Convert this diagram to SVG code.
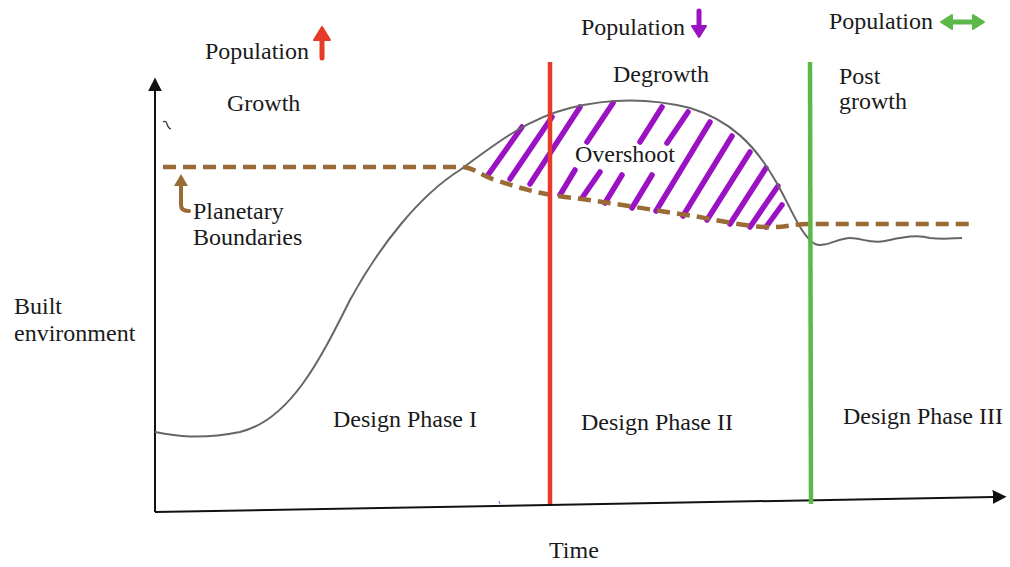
<svg xmlns="http://www.w3.org/2000/svg" width="1010" height="567" viewBox="0 0 1010 567">
  <style>
    .lbl { font-family: "Liberation Serif", "Times New Roman", serif; font-size: 24px; fill: #1a1a1a; }
    .axis { stroke: #111; stroke-width: 2; fill: none; }
    .hatch { stroke: #9a12c4; stroke-width: 5.5; stroke-linecap: round; fill: none; }
    .bound { stroke: #9a6b35; stroke-width: 4.5; stroke-dasharray: 13 7; fill: none; }
    .curve { stroke: #666; stroke-width: 2; fill: none; }
  </style>
  <defs>
    <marker id="axhead" viewBox="0 0 10 10" refX="1" refY="5" markerWidth="7" markerHeight="7" orient="auto" markerUnits="strokeWidth">
      <path d="M0,0 L10,5 L0,10 Z" fill="#111"/>
    </marker>
  </defs>

  <rect width="1010" height="567" fill="#fff"/>

  <!-- axes -->
  <g id="axes">
    <path class="axis" d="M155,512 L155,90" marker-end="url(#axhead)"/>
    <path class="axis" d="M155,512 L994,497" marker-end="url(#axhead)"/>
    <path d="M163,122 q3,-2 4,2 q1,4 4,5" stroke="#333" stroke-width="1.2" fill="none"/>
    <path d="M499,501 l1,3" stroke="#4a6fd0" stroke-width="1"/>
  </g>

  <!-- overshoot hatching -->
  <g id="overshoot-hatch">
    <line class="hatch" x1="488" y1="175" x2="522" y2="127"/>
    <line class="hatch" x1="510" y1="179" x2="552" y2="117"/>
    <line class="hatch" x1="530" y1="184" x2="580" y2="107"/>
    <line class="hatch" x1="560" y1="195" x2="575" y2="170"/>
    <line class="hatch" x1="587" y1="142" x2="613" y2="103"/>
    <line class="hatch" x1="582" y1="198" x2="600" y2="172"/>
    <line class="hatch" x1="605" y1="203" x2="622" y2="175"/>
    <line class="hatch" x1="640" y1="142" x2="662" y2="107"/>
    <line class="hatch" x1="632" y1="208" x2="652" y2="175"/>
    <line class="hatch" x1="667" y1="143" x2="688" y2="112"/>
    <line class="hatch" x1="656" y1="211" x2="710" y2="122"/>
    <line class="hatch" x1="683" y1="216" x2="732" y2="136"/>
    <line class="hatch" x1="707" y1="220" x2="750" y2="152"/>
    <line class="hatch" x1="730" y1="224" x2="766" y2="168"/>
    <line class="hatch" x1="750" y1="227" x2="778" y2="186"/>
    <line class="hatch" x1="766" y1="227" x2="782" y2="205"/>
  </g>

  <!-- built environment curve -->
  <g id="built-environment-curve">
    <path class="curve" d="M155,432 C175,436 200,440 240,432 C290,420 320,360 350,300 C380,245 420,195 460,170 C500,140 530,118 570,108 C610,98 650,98 690,108 C730,120 755,145 775,180 C790,205 800,235 815,244 C825,248 838,238 850,238 C862,238 870,244 885,241 C900,238 915,234 930,238 C945,240 955,238 962,238"/>
  </g>

  <!-- planetary boundary -->
  <g id="planetary-boundary">
    <path class="bound" d="M163,167 L462,167 C475,168 480,175 495,180 C520,188 540,194 565,197 C600,201 640,208 680,214 C710,218 740,226 765,227 C785,228 790,224 810,224 L972,224"/>
    <path d="M181,184 L181,205 Q181,211 189,211" stroke="#9a6b35" stroke-width="4" fill="none" stroke-linecap="round"/>
    <path d="M174,186 L181,174 L188,186 Z" fill="#9a6b35"/>
  </g>

  <!-- phase dividers -->
  <g id="divider-degrowth">
    <line x1="550" y1="62" x2="550" y2="504" stroke="#e63a2b" stroke-width="4.5"/>
  </g>
  <g id="divider-postgrowth">
    <line x1="810" y1="62" x2="811" y2="504" stroke="#5cb849" stroke-width="4.5"/>
  </g>

  <!-- population indicators -->
  <g id="pop-growth">
    <text class="lbl" x="205" y="59">Population</text>
    <line x1="322" y1="58" x2="322" y2="38" stroke="#e63a2b" stroke-width="5" stroke-linecap="round"/>
    <path d="M314,40 L322,27 L330,40 Z" fill="#e63a2b" stroke="#e63a2b" stroke-width="2" stroke-linejoin="round"/>
  </g>
  <g id="pop-degrowth">
    <text class="lbl" x="581" y="35">Population</text>
    <line x1="699" y1="11" x2="699" y2="27" stroke="#9a12c4" stroke-width="5" stroke-linecap="round"/>
    <path d="M692,26 L699,37 L706,26 Z" fill="#9a12c4" stroke="#9a12c4" stroke-width="2" stroke-linejoin="round"/>
  </g>
  <g id="pop-postgrowth">
    <text class="lbl" x="829" y="29">Population</text>
    <line x1="950" y1="22" x2="975" y2="22" stroke="#5cb849" stroke-width="5" stroke-linecap="round"/>
    <path d="M952,15 L941,22 L952,29 Z" fill="#5cb849" stroke="#5cb849" stroke-width="2" stroke-linejoin="round"/>
    <path d="M973,15 L984,22 L973,29 Z" fill="#5cb849" stroke="#5cb849" stroke-width="2" stroke-linejoin="round"/>
  </g>

  <!-- phase labels -->
  <g id="label-growth"><text class="lbl" x="227" y="111">Growth</text></g>
  <g id="label-degrowth"><text class="lbl" x="613" y="82">Degrowth</text></g>
  <g id="label-postgrowth">
    <text class="lbl" x="839" y="84">Post</text>
    <text class="lbl" x="839" y="109">growth</text>
  </g>
  <g id="label-overshoot"><text class="lbl" x="575" y="162">Overshoot</text></g>
  <g id="label-boundaries">
    <text class="lbl" x="193" y="219">Planetary</text>
    <text class="lbl" x="193" y="245">Boundaries</text>
  </g>
  <g id="label-y">
    <text class="lbl" x="14" y="314">Built</text>
    <text class="lbl" x="14" y="341">environment</text>
  </g>
  <g id="label-x"><text class="lbl" x="549" y="558">Time</text></g>
  <g id="phase-1"><text class="lbl" x="333" y="427">Design Phase I</text></g>
  <g id="phase-2"><text class="lbl" x="581" y="430">Design Phase II</text></g>
  <g id="phase-3"><text class="lbl" x="843" y="424">Design Phase III</text></g>
</svg>
